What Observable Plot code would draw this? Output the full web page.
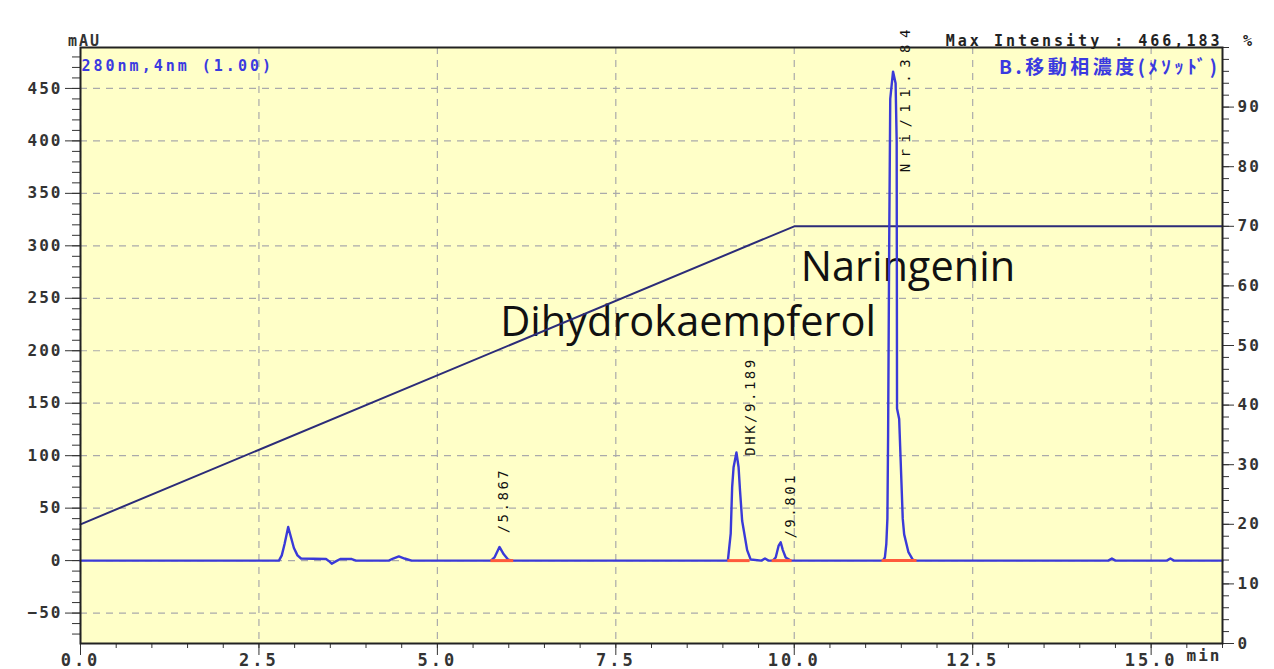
<!DOCTYPE html>
<html><head><meta charset="utf-8">
<script src="https://cdn.jsdelivr.net/npm/d3@7"></script>
<script src="https://cdn.jsdelivr.net/npm/@observablehq/plot@0.6"></script>
<style>
html,body{margin:0;padding:0;background:#fff;}
#chart svg{display:block;background:linear-gradient(to bottom,#fff 0 10px,transparent 10px),linear-gradient(to right,#fff 0 10px,#efefef 10px);}
</style></head><body><div id="chart"></div>
<script>
// Chromatogram (280nm), time in min, signal in mAU
const chromTime = [0, 2.78, 2.82, 2.86, 2.91, 2.95, 2.99, 3.04, 3.09, 3.44, 3.49, 3.52, 3.57, 3.64, 3.80, 3.86,
  4.32, 4.38, 4.46, 4.54, 4.64,
  5.75, 5.80, 5.87, 5.93, 5.99, 6.06,
  9.07, 9.11, 9.13, 9.15, 9.19, 9.22, 9.24, 9.27, 9.34, 9.39,
  9.54, 9.59, 9.64,
  9.70, 9.74, 9.78, 9.81, 9.84, 9.88, 9.95,
  11.24, 11.27, 11.29, 11.305, 11.315, 11.33, 11.345, 11.384, 11.42, 11.435, 11.44, 11.47, 11.50, 11.52, 11.54, 11.60, 11.66, 11.70,
  14.40, 14.45, 14.50,
  15.22, 15.27, 15.32, 16.0];
const chromMAU = [0, 0, 5, 16, 32, 22, 12, 5, 2, 1.5, -1, -3, -1, 1.5, 1.5, 0,
  0, 2, 4, 2, 0,
  0, 3, 13, 6, 1, 0,
  0, 26, 70, 89, 103, 89, 67, 38, 10, 1,
  0, 2, 0,
  0, 3, 14, 17.5, 10, 3, 0,
  0, 3, 16, 40, 120, 300, 440, 466, 455, 400, 145, 135, 78, 40, 25, 8, 1, 0,
  0, 2, 0,
  0, 2, 0, 0];

// Mobile phase B concentration (method), %
const gradTime = [0, 10, 16];
const gradPct = [20, 70, 70];

// Integration baselines
const baseStart = [5.75, 9.07, 9.69, 11.23];
const baseEnd = [6.07, 9.38, 9.97, 11.72];

// Peak labels
const peakLabels = ["/5.867", "DHK/9.189", "/9.801", "Nri/11.384"];
const labelTime = [5.93, 9.39, 9.95, 11.56];
const labelMAU = [26, 100, 21, 370];

// Annotations
const annotText = ["Dihydrokaempferol", "Naringenin"];
const annotTime = [5.88, 10.09];
const annotMAU = [227, 279];

// Axis ticks
const xMajor = [0, 2.5, 5, 7.5, 10, 12.5, 15];
const yMajor = [-50, 0, 50, 100, 150, 200, 250, 300, 350, 400, 450];
const pctMajor = [0, 10, 20, 30, 40, 50, 60, 70, 80, 90];

const Y0 = -79, Y1 = 489;
const pctToMAU = p => Y0 + p * (Y1 - Y0) / 100;
const mauToPct = v => (v - Y0) * 100 / (Y1 - Y0);

const chrom = chromTime.map((t, i) => ({t, v: chromMAU[i]}));
const grad = gradTime.map((t, i) => ({t, v: pctToMAU(gradPct[i])}));
const bases = baseStart.map((s, i) => ({s, e: baseEnd[i]}));
const labels = peakLabels.map((s, i) => ({s, t: labelTime[i], v: labelMAU[i]}));
const annots = annotText.map((s, i) => ({s, t: annotTime[i], v: annotMAU[i]}));

const xMinor = d3.range(0, 16.01, 0.5);
const yMinor = d3.range(-70, 489, 10);
const pctMinor = d3.range(0, 100.1, 2).map(pctToMAU);

const mono = "'DejaVu Sans Mono', monospace";
const blue = "#3a3ad8";

const chart = Plot.plot({
  width: 1274, height: 669,
  marginLeft: 80, marginRight: 52, marginTop: 47, marginBottom: 26,
  style: {fontFamily: mono, fontSize: "15px", fontWeight: "bold", color: "#333", background: "transparent", overflow: "visible"},
  x: {domain: [0, 16]},
  y: {domain: [Y0, Y1]},
  marks: [
    Plot.frame({fill: "#ffffc8"}),
    Plot.gridX(xMajor, {stroke: "#aaa", strokeOpacity: 1, strokeDasharray: "7,6", strokeWidth: 1.2}),
    Plot.gridY(yMajor, {stroke: "#aaa", strokeOpacity: 1, strokeDasharray: "7,6", strokeWidth: 1.2}),
    // axes: left
    Plot.axisY({ticks: yMinor, tickSize: 8, tickFormat: () => "", label: null}),
    Plot.axisY({ticks: yMajor, tickSize: 15, tickPadding: 3, label: null, fontSize: 16}),
    // right
    Plot.axisY({anchor: "right", ticks: pctMinor, tickSize: 6, tickFormat: () => "", label: null}),
    Plot.axisY({anchor: "right", ticks: pctMajor.map(pctToMAU), tickSize: 11, tickPadding: 4, tickFormat: v => String(Math.round(mauToPct(v))), label: null, fontSize: 16}),
    // bottom
    Plot.axisX({ticks: xMinor, tickSize: 5, tickFormat: () => "", label: null}),
    Plot.axisX({ticks: xMajor, tickSize: 12, tickPadding: -2, tickFormat: d3.format(".1f"), label: null, fontSize: 17}),
    // annotations
    Plot.text(annots, {x: "t", y: "v", text: "s", textAnchor: "start", fontFamily: "'Open Sans', sans-serif", fontWeight: "normal", fontSize: 41.5, fill: "#111"}),
    // gradient line
    Plot.line(grad, {x: "t", y: "v", stroke: "#2c2c78", strokeWidth: 2}),
    // chromatogram
    Plot.line(chrom, {x: "t", y: "v", stroke: blue, strokeWidth: 2.4}),
    Plot.ruleY(bases, {y: () => 0, x1: "s", x2: "e", stroke: "#ff5a3c", strokeWidth: 3}),
    // peak labels
    Plot.text(labels.slice(0, 3), {x: "t", y: "v", text: "s", rotate: -90, textAnchor: "start", fontFamily: mono, fontWeight: "normal", fontSize: 14, fill: "#111"}),
    Plot.text(labels.slice(3), {x: "t", y: "v", text: "s", rotate: -90, textAnchor: "start", fontFamily: mono, fontWeight: "normal", fontSize: 14, fill: "#111"}),
    // frame border
    Plot.frame({stroke: "#222", strokeWidth: 2}),
    // header texts
    Plot.text(["mAU"], {text: d => d, frameAnchor: "top-left", textAnchor: "middle", dx: 4, dy: -12, fontSize: 15}),
    Plot.text(["280nm,4nm (1.00)"], {text: d => d, frameAnchor: "top-left", textAnchor: "start", dx: 1, dy: 13, fontSize: 15, fill: "#3a3ae0"}),
    Plot.text(["Max Intensity : 466,183"], {text: d => d, frameAnchor: "top-right", textAnchor: "end", dx: 0, dy: -12, fontSize: 15, fill: "#222"}),
    Plot.text(["%"], {text: d => d, frameAnchor: "top-right", textAnchor: "middle", dx: 25, dy: -12, fontSize: 15, fill: "#222"}),
    Plot.text(["B.移動相濃度(ﾒｿｯﾄﾞ)"], {text: d => d, frameAnchor: "top-right", textAnchor: "end", dx: -2, dy: 13, fontFamily: "'Noto Sans CJK JP', sans-serif", fontSize: 19, fill: "#3a3ae0"}),
    Plot.text(["min"], {text: d => d, frameAnchor: "bottom-right", textAnchor: "end", dx: -1, dy: 17, fontSize: 16, fill: "#333"})
  ]
});

// letter spacing (not a Plot text option): applied to rendered groups
const textSpacing = ["0px", "2.5px", "6.5px", "2px", "3px", "3px", "0px", "3.5px", "2px"];
chart.querySelectorAll('g[aria-label="text"]').forEach((g, i) => { g.style.letterSpacing = textSpacing[i] || "0px"; });
chart.querySelectorAll('g[aria-label="y-axis tick label"]').forEach(g => { g.style.letterSpacing = "2px"; });
chart.querySelectorAll('g[aria-label="x-axis tick label"]').forEach(g => { g.style.letterSpacing = "3px"; });
document.getElementById("chart").append(chart);
</script></body></html>
